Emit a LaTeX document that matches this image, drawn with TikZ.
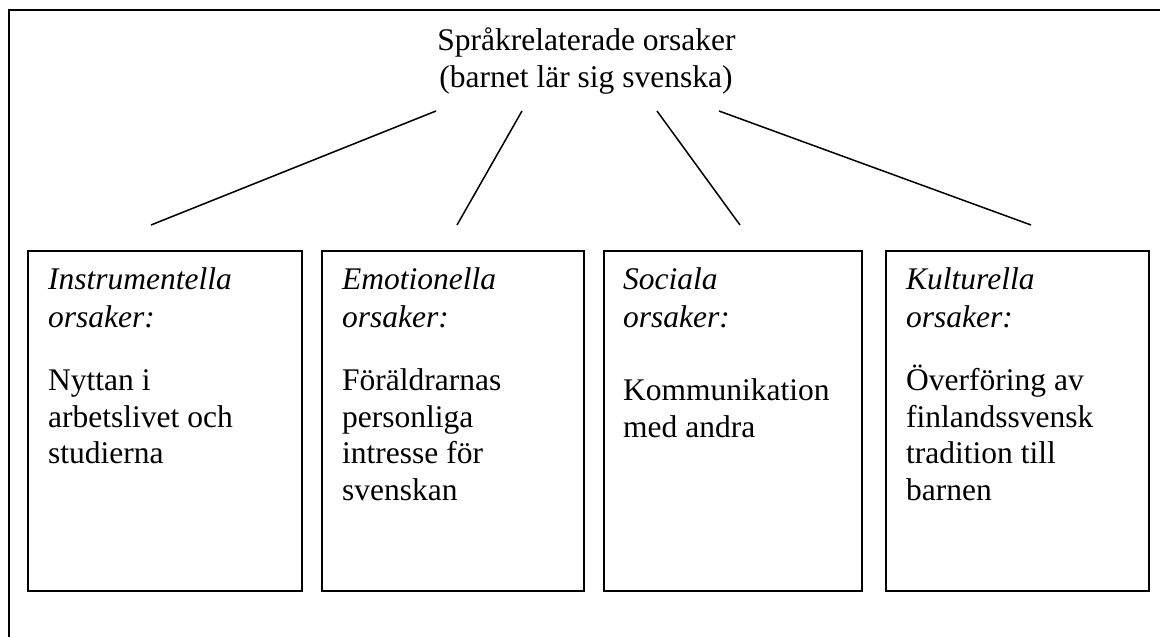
\documentclass[tikz,border=0pt]{standalone}
\usepackage{fontspec}
\setmainfont{Liberation Serif}
\begin{document}
\begin{tikzpicture}[x=1pt,y=-1pt,
  frameline/.style={line width=2pt},
  cbox/.style={draw, line width=2pt, inner sep=0pt, anchor=north west, minimum height=340pt},
  conn/.style={line width=1.5pt},
  txt/.style={anchor=base west, inner sep=0pt, font=\fontsize{31.5}{37}\selectfont},
  hd/.style={anchor=base west, inner sep=0pt, font=\fontsize{31.5}{37}\selectfont\itshape},
  ttl/.style={anchor=base, inner sep=0pt, font=\fontsize{31.5}{37}\selectfont}]
\useasboundingbox (0,0) rectangle (1160,637);
% outer frame (left and top sides visible)
\draw[frameline] (9,637) -- (9,10) -- (1160,10);
% title
\node[ttl] (title1) at (586.5,50) {Språkrelaterade orsaker};
\node[ttl] (title2) at (586,87) {(barnet lär sig svenska)};
% boxes
\node[cbox, minimum width=274pt] (b1) at (27,250) {};
\node[cbox, minimum width=262pt] (b2) at (321,250) {};
\node[cbox, minimum width=258pt] (b3) at (603,250) {};
\node[cbox, minimum width=263pt] (b4) at (885,250) {};
% connector end points
\coordinate (s1) at (436,111);
\coordinate (s2) at (522,111);
\coordinate (s3) at (657,111);
\coordinate (s4) at (719,111);
\coordinate (e1) at (151,225);
\coordinate (e2) at (457,225);
\coordinate (e3) at (740,225);
\coordinate (e4) at (1031,225);
\draw[conn] (s1) -- (e1);
\draw[conn] (s2) -- (e2);
\draw[conn] (s3) -- (e3);
\draw[conn] (s4) -- (e4);
% box 1
\node[hd] (h1a) at (48,289) {Instrumentella};
\node[hd] (h1b) at (48,327) {orsaker:};
\node[txt] (t1a) at (48,390) {Nyttan i};
\node[txt] (t1b) at (48,427) {arbetslivet och};
\node[txt] (t1c) at (48,463) {studierna};
% box 2
\node[hd] (h2a) at (342,289) {Emotionella};
\node[hd] (h2b) at (342,327) {orsaker:};
\node[txt] (t2a) at (342,390) {Föräldrarnas};
\node[txt] (t2b) at (342,427) {personliga};
\node[txt] (t2c) at (342,463) {intresse för};
\node[txt] (t2d) at (342,500) {svenskan};
% box 3
\node[hd] (h3a) at (623,289) {Sociala};
\node[hd] (h3b) at (623,327) {orsaker:};
\node[txt] (t3a) at (623,400) {Kommunikation};
\node[txt] (t3b) at (623,437) {med andra};
% box 4
\node[hd] (h4a) at (906,289) {Kulturella};
\node[hd] (h4b) at (906,327) {orsaker:};
\node[txt] (t4a) at (906,390) {Överföring av};
\node[txt] (t4b) at (906,427) {finlandssvensk};
\node[txt] (t4c) at (906,463) {tradition till};
\node[txt] (t4d) at (906,500) {barnen};
\end{tikzpicture}
\end{document}
